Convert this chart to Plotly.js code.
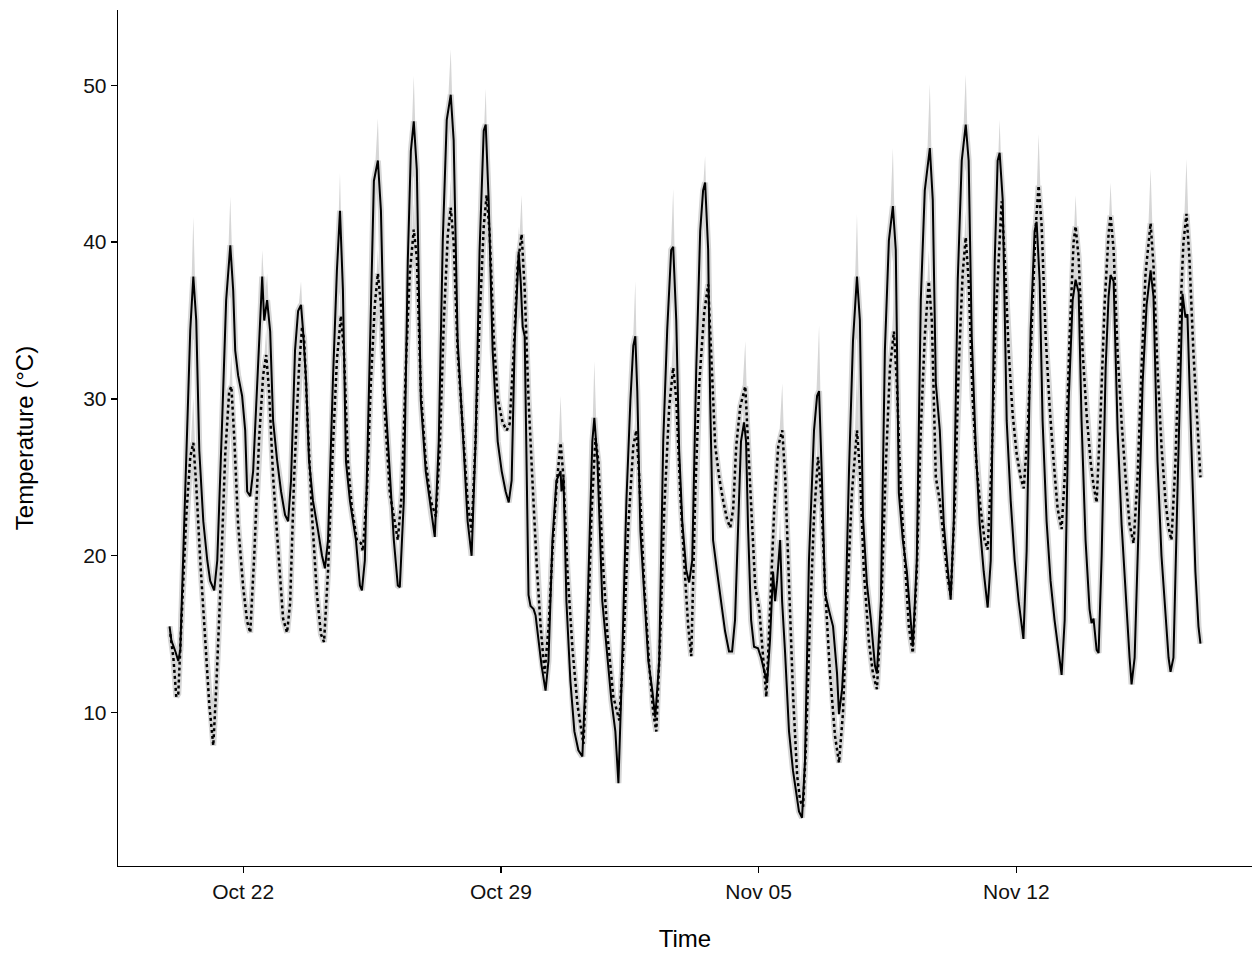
<!DOCTYPE html>
<html>
<head>
<meta charset="utf-8">
<script src="https://cdn.plot.ly/plotly-3.0.1.min.js"></script>
<style>html,body{margin:0;padding:0;background:#fff;}#chart{width:1252px;height:953px;}</style>
</head>
<body>
<div id="chart"></div>
<script>
// Start of record: 2023-10-20 00:00; times are hours since start
const startDate = '2023-10-20T00:00:00Z';

const solidHours = [
0,1.2,3.8,5.7,7.0,10.3,13.5,15.5,17.4,19.4,
22.0,24.6,26.5,29.1,31.1,34.3,36.9,39.6,41.5,42.8,
44.7,47.3,49.3,50.6,52.6,54.5,57.8,60.4,61.7,63.6,
65.6,67.5,70.1,72.7,75.3,77.3,79.2,81.8,83.8,85.7,
87.0,89.0,90.9,93.5,96.8,99.4,101.3,103.3,106.5,109.1,
111.1,113.0,115.0,117.6,121.5,124.1,125.4,127.3,130.6,133.2,
135.8,137.8,140.4,143.6,146.2,148.8,150.1,152.7,155.3,157.3,
159.2,161.2,163.8,167.0,170.3,172.9,175.5,178.1,180.7,183.3,
185.2,187.8,191.1,194.3,196.9,199.5,202.1,204.8,206.1,208.0,
210.6,213.9,216.5,219.1,221.1,223.0,225.0,227.6,228.9,230.2,
231.5,234.0,235.3,237.3,238.6,239.9,242.5,245.1,247.0,249.6,
252.2,254.9,255.5,256.8,258.7,261.3,263.9,266.5,269.1,271.1,
273.7,275.6,276.9,278.9,282.1,285.4,288.0,290.6,292.6,294.5,
297.8,300.4,302.3,303.6,304.9,306.9,309.5,312.1,314.7,316.6,
319.2,321.8,324.4,327.0,328.3,330.3,332.2,334.2,336.8,338.7,
340.7,343.3,345.9,347.8,349.1,351.1,352.4,354.3,356.9,359.5,
362.1,364.7,366.7,368.6,370.6,372.5,374.5,375.8,377.1,379.1,
381.0,383.6,385.6,387.5,389.5,391.4,393.4,394.7,396.0,398.0,
399.3,401.2,403.8,406.4,408.4,410.3,412.3,414.2,416.8,420.1,
422.1,423.4,425.3,427.3,429.9,432.5,435.1,436.4,438.4,440.3,
442.9,445.5,448.1,450.0,452.0,454.6,457.2,459.8,461.1,463.7,
466.3,468.9,471.5,473.4,475.4,478.0,480.6,483.2,484.5,487.1,
489.7,492.3,495.6,497.5,499.5,502.1,504.7,507.3,509.2,511.2,
513.8,516.4,519.0,520.9,522.9,525.5,528.1,530.7,533.3,535.3,
537.9,539.8,541.1,543.1,545.7,548.3,550.9,553.5,556.6,558.7,
561.3,563.9,565.2,567.2,569.1,571.7,574.3,576.9,579.5,581.5,
583.5,586.1,588.7,590.6,592.6,594.5,597.1,599.7,601.0,602.3,
604.3,605.6,607.6,610.2,612.1,613.4,615.4,618.0,620.6,623.2,
625.8,627.1,629.1,631.7,634.3,636.9,639.5,641.4,644.0,646.6,
649.2,651.2,652.5,654.4,657.0,659.0,660.3,662.2,663.5,666.1,
668.7,670.7,672.0];

const solidTemp = [
15.5,14.6,13.9,13.3,14.0,24.8,34.4,37.8,35.0,26.7,
22.2,19.7,18.4,17.8,19.7,28.6,36.3,39.8,36.9,33.1,
31.5,30.2,28.0,24.1,23.8,25.4,32.4,37.8,35.0,36.3,
34.3,28.6,26.1,24.1,22.6,22.2,24.8,33.1,35.6,36.0,
34.4,31.2,26.1,23.5,21.6,20.0,19.2,21.0,31.2,38.2,
42.0,37.0,26.0,23.5,21.0,18.1,17.8,19.7,33.1,43.9,
45.2,42.0,30.5,24.8,21.0,18.1,18.0,23.5,38.8,45.8,
47.7,44.6,29.9,25.4,22.9,21.2,27.3,40.1,47.8,49.4,
46.5,33.7,28.0,22.2,20.0,27.3,39.5,47.1,47.5,42.7,
33.1,27.3,25.4,24.1,23.4,24.8,33.7,39.4,37.5,34.6,
34.0,17.5,16.8,16.6,16.2,15.2,13.0,11.4,13.3,21.0,
24.8,25.4,24.1,25.0,17.1,12.0,8.8,7.6,7.2,12.0,
21.6,27.3,28.8,26.1,17.1,13.3,10.8,8.8,5.5,11.4,
23.5,29.9,33.4,34.0,30.5,21.6,17.1,13.3,11.4,9.7,
13.3,27.3,34.4,39.5,39.7,35.0,26.7,22.2,19.1,18.3,
19.7,31.8,40.7,43.3,43.8,39.5,29.9,21.0,19.0,17.1,
15.2,13.9,13.9,15.9,22.2,27.3,28.5,27.3,21.8,15.9,
14.2,14.1,13.5,12.7,11.9,14.6,19.0,17.1,18.4,21.0,
17.1,13.9,8.8,6.3,5.0,3.7,3.3,6.9,19.7,28.0,
30.2,30.5,24.8,17.6,16.5,15.5,12.5,9.9,11.5,15.0,
25.4,33.7,37.8,35.0,22.5,18.2,15.9,13.0,12.5,17.1,
33.1,40.1,42.3,39.5,24.0,21.0,19.0,15.5,14.2,19.7,
36.3,43.3,46.0,42.7,31.0,28.0,22.0,19.1,17.2,22.2,
37.6,45.2,47.5,45.2,34.0,27.0,22.0,19.0,16.7,19.7,
38.8,45.2,45.7,42.7,28.6,23.5,19.7,17.1,14.7,20.3,
34.4,40.7,41.3,37.5,28.6,22.2,18.4,15.9,13.9,12.4,
15.9,29.9,36.3,37.6,36.8,28.6,21.0,16.6,15.7,16.0,
14.0,13.8,20.0,32.0,36.5,37.9,37.5,28.0,22.0,17.5,
13.5,11.8,13.5,22.0,31.0,36.0,38.2,36.5,26.0,20.0,
16.0,13.5,12.6,13.5,24.0,32.0,36.7,35.2,35.4,27.0,
19.0,15.5,14.4];

const dottedHours = [
0.5,2.5,4.4,5.7,8.3,10.9,13.5,15.5,17.4,20.0,
23.3,25.9,28.5,30.4,33.0,36.3,38.9,40.3,42.2,44.7,
48.0,50.6,52.6,55.2,58.4,61.0,63.0,64.9,67.5,70.8,
74.0,76.6,78.6,81.2,84.4,86.4,87.7,90.3,92.9,96.1,
98.7,100.7,103.3,106.5,109.1,111.7,113.7,116.3,118.9,122.1,
124.8,126.0,128.6,131.2,133.8,135.8,137.8,140.4,143.6,146.2,
148.8,151.4,154.0,156.6,159.2,161.2,163.8,167.0,170.3,173.6,
176.2,178.8,181.4,183.3,185.2,187.8,191.1,194.3,196.9,199.5,
202.1,204.8,206.7,208.7,211.3,213.9,217.1,219.8,221.7,224.3,
226.9,229.5,231.5,234.0,236.7,239.3,241.9,244.5,247.1,249.7,
252.3,254.9,256.8,259.4,262.7,265.9,269.8,272.4,275.0,277.6,
279.6,282.2,285.4,289.3,293.2,295.8,299.1,302.3,304.3,306.2,
309.5,312.7,315.3,317.3,319.9,322.5,325.7,328.3,330.3,332.9,
335.5,338.1,340.1,342.7,345.3,348.5,351.1,353.1,355.7,358.3,
360.9,363.5,365.5,367.4,369.4,372.0,374.0,375.3,377.2,379.2,
381.8,384.4,387.0,389.0,391.6,394.2,396.8,399.4,401.3,403.9,
406.5,409.1,411.0,413.0,414.9,417.5,420.1,422.7,424.7,427.3,
430.5,433.8,436.4,439.0,441.6,444.8,448.1,450.0,452.6,455.9,
458.5,461.1,463.7,467.0,469.6,472.2,474.1,476.7,479.3,481.9,
484.5,487.1,489.7,492.3,494.9,496.9,499.5,502.1,504.7,507.3,
509.2,511.8,514.4,517.0,519.0,520.9,523.5,526.1,528.7,531.3,
533.3,535.9,538.5,542.4,544.4,547.0,549.6,552.2,554.8,556.8,
559.4,562.0,564.6,566.5,568.5,571.1,573.7,576.3,578.9,581.5,
584.1,586.7,589.3,590.6,592.6,595.2,597.8,600.4,602.3,604.3,
606.9,609.5,612.1,613.4,615.4,618.0,620.6,623.2,625.8,628.4,
631.0,633.6,636.2,639.5,641.4,644.0,646.6,649.2,651.2,653.1,
655.7,658.3,660.9,662.9,664.8,667.4,670.0,672.0];

const dottedTemp = [
15.0,13.5,11.0,11.2,17.0,22.5,26.3,27.2,24.5,19.7,
14.6,10.5,7.9,11.5,17.5,26.5,30.5,30.8,27.5,22.0,
18.0,15.8,15.1,20.0,27.5,31.5,32.8,30.5,25.0,20.5,
16.0,15.1,17.0,25.0,32.0,34.6,33.8,28.0,22.5,17.5,
15.0,14.5,19.0,27.0,32.5,35.3,33.0,26.0,23.0,21.0,
20.8,20.3,24.0,31.0,36.0,38.0,36.0,29.0,24.0,22.5,
21.0,24.0,32.0,38.0,40.8,39.0,30.5,26.0,23.5,22.5,
27.0,35.0,40.5,42.2,40.0,33.0,28.5,23.5,21.5,27.5,
35.0,41.0,43.0,40.5,34.0,30.0,28.5,28.0,28.4,33.0,
38.5,40.5,37.0,30.0,24.5,19.5,15.5,12.5,15.5,20.5,
24.5,27.2,25.0,19.0,14.0,10.5,8.0,14.0,22.5,27.5,
26.0,20.0,15.0,11.0,9.5,14.0,22.0,27.0,28.0,25.0,
18.0,13.0,10.0,8.8,15.0,23.0,29.5,32.0,30.0,24.0,
19.5,15.5,13.6,24.0,31.0,35.5,37.3,33.0,27.0,25.0,
23.5,22.3,21.8,23.0,27.0,29.5,30.3,30.8,27.0,22.8,
18.0,16.6,13.5,11.0,17.0,23.0,27.0,28.0,25.0,18.0,
11.0,6.0,4.4,4.0,8.0,16.0,22.5,26.3,24.0,18.0,
12.5,8.5,6.8,10.0,17.0,24.0,28.0,25.5,19.0,14.5,
12.5,11.5,16.0,26.0,32.0,34.3,31.0,24.0,19.5,15.5,
13.8,19.0,28.0,34.0,37.5,35.0,25.0,23.5,21.0,18.5,
17.5,23.0,32.0,38.0,40.3,37.5,30.0,25.7,23.0,21.0,
20.4,26.0,35.0,42.6,39.0,33.0,29.0,26.5,25.0,24.3,
28.0,35.0,41.0,43.6,41.0,34.0,29.5,26.0,23.0,21.7,
26.0,34.0,40.0,41.0,39.0,33.0,29.0,26.0,24.5,23.4,
29.0,36.0,40.5,41.7,39.5,33.0,28.5,25.0,22.0,20.8,
25.0,32.0,38.0,41.2,38.5,32.0,27.0,23.5,21.8,21.0,
26.0,34.0,40.0,41.8,39.0,33.0,28.0,25.0];

// upper edge of the grey uncertainty band at daily peaks (hour, °C)
const solidBandPeakHours = [15.5,39.6,60.4,63.6,85.7,111.1,135.8,159.2,183.3,206.1,227.6,254.9,276.9,303.6,328.3,349.1,374.5,398.0,423.4,448.1,471.5,495.6,519.0,541.1,565.2,590.6,613.4,639.5,660.3];
const solidBandPeakTop   = [41.6,42.9,39.5,38.0,37.5,44.4,47.9,50.6,52.3,49.8,41.0,27.0,32.4,37.5,43.4,45.5,29.5,22.5,34.7,41.8,46.0,50.1,50.7,47.8,43.0,39.0,39.5,40.0,38.5];
const dottedBandPeakHours = [15.5,40.3,63.0,86.4,111.7,135.8,159.2,183.3,206.7,229.5,254.9,277.6,304.3,328.3,351.1,375.3,399.4,422.7,448.1,472.2,494.9,519.0,542.4,566.5,590.6,613.4,639.5,662.9];
const dottedBandPeakTop   = [30.1,32.9,34.5,36.0,37.0,39.5,42.5,44.0,45.0,43.0,30.2,29.5,30.0,34.0,39.0,33.7,31.0,28.0,31.9,36.5,39.5,42.0,44.5,46.9,43.0,43.8,44.7,45.3];

const tickDates  = ['2023-10-22','2023-10-29','2023-11-05','2023-11-12'];
const tickLabels = ['Oct 22','Oct 29','Nov 05','Nov 12'];
const yTicks = [10,20,30,40,50];

const t0 = Date.parse(startDate);
const toTime = h => t0 + h * 3600e3;

function interp(H, V, h) {
  if (h <= H[0]) return V[0];
  for (let i = 1; i < H.length; i++) {
    if (h <= H[i]) {
      const f = (h - H[i-1]) / (H[i] - H[i-1]);
      return V[i-1] + f * (V[i] - V[i-1]);
    }
  }
  return V[V.length - 1];
}

function spikes(H, V, PH, PT, half) {
  const xs = [], ys = [];
  PH.forEach((h, k) => {
    xs.push(toTime(h - half), toTime(h), toTime(h + half), null);
    ys.push(interp(H, V, h - half), PT[k], interp(H, V, h + half), null);
  });
  return {xs, ys};
}

const band = '#d6d6d6';
const sSp = spikes(solidHours, solidTemp, solidBandPeakHours, solidBandPeakTop, 2.2);
const dSp = spikes(dottedHours, dottedTemp, dottedBandPeakHours, dottedBandPeakTop, 2.2);

const traces = [
  {x: sSp.xs, y: sSp.ys, mode: 'lines', fill: 'toself', fillcolor: band, line: {width: 0, color: band}, hoverinfo: 'skip', showlegend: false, connectgaps: false},
  {x: dSp.xs, y: dSp.ys, mode: 'lines', fill: 'toself', fillcolor: band, line: {width: 0, color: band}, hoverinfo: 'skip', showlegend: false, connectgaps: false},
  {x: solidHours.map(toTime), y: solidTemp, mode: 'lines', line: {color: band, width: 6}, hoverinfo: 'skip', showlegend: false},
  {x: dottedHours.map(toTime), y: dottedTemp, mode: 'lines', line: {color: band, width: 6}, hoverinfo: 'skip', showlegend: false},
  {x: dottedHours.map(toTime), y: dottedTemp, mode: 'lines', name: 'dotted', line: {color: '#000', width: 2.5, dash: 'dot'}, showlegend: false},
  {x: solidHours.map(toTime), y: solidTemp, mode: 'lines', name: 'solid', line: {color: '#000', width: 2}, showlegend: false}
];

const font = "'Liberation Sans', Arial, Helvetica, sans-serif";
const layout = {
  width: 1252, height: 953,
  margin: {l: 118, r: 0, t: 10, b: 87},
  paper_bgcolor: '#fff', plot_bgcolor: '#fff',
  font: {family: font, color: '#000'},
  showlegend: false,
  xaxis: {
    type: 'date',
    range: [toTime(-33.6), toTime(705.6)],
    tickmode: 'array', tickvals: tickDates, ticktext: tickLabels,
    showgrid: false, zeroline: false,
    showline: true, linecolor: '#000', linewidth: 1.3,
    ticks: 'outside', ticklen: 6, tickwidth: 1.3, tickcolor: '#000',
    tickfont: {size: 21, color: '#111', family: font},
    title: {text: 'Time', font: {size: 24, color: '#000', family: font}, standoff: 28},
    automargin: false
  },
  yaxis: {
    range: [0.22, 54.8],
    tickmode: 'array', tickvals: yTicks, ticktext: yTicks.map(String),
    showgrid: false, zeroline: false,
    showline: true, linecolor: '#000', linewidth: 1.3,
    ticks: 'outside', ticklen: 6, tickwidth: 1.3, tickcolor: '#000',
    tickfont: {size: 21, color: '#111', family: font},
    title: {text: 'Temperature (°C)', font: {size: 24, color: '#000', family: font}, standoff: 42},
    automargin: false
  }
};

Plotly.newPlot('chart', traces, layout, {staticPlot: true, displayModeBar: false});
</script>
</body>
</html>
